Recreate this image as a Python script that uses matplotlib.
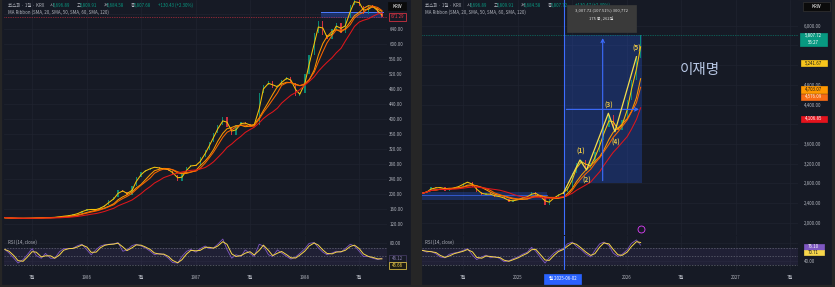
import numpy as np
import pandas as pd
import matplotlib
matplotlib.use('Agg')
import matplotlib.pyplot as plt
import matplotlib.dates as mdates
from matplotlib.patches import Rectangle, FancyArrowPatch

plt.rcParams['font.family'] = ['Noto Sans CJK KR', 'DejaVu Sans']

W, H = 835, 287
BG = '#161a25'
GRID = '#1f2330'
TXT = '#b2b5be'
UP, DOWN = '#089981', '#f23645'
BLUE = '#2962ff'

# ---- data (semi-monthly closes) ----
left_dates = pd.date_range('1985-04-01', periods=84, freq='SMS')
left_close = [137, 136, 135, 135, 135, 136, 136, 137, 137, 138,
              137, 139, 140, 142, 143, 146, 150, 156, 160, 158,
              160, 165, 172, 183, 192, 212, 205, 198, 222, 245,
              258, 265, 270, 273, 266, 268, 262, 252, 235, 255,
              272, 278, 275, 298, 318, 340, 362, 385, 405, 378,
              358, 384, 392, 386, 382, 385, 470, 490, 500, 482,
              490, 505, 512, 495, 462, 470, 520, 570, 630, 660,
              625, 612, 640, 655, 628, 668, 705, 720, 700, 680,
              705, 695, 682, 671.29]
left_rsi = [66, 58, 46, 35, 43, 54, 68, 52, 46, 57,
            46, 46, 61, 68, 68, 69, 75, 78, 65, 54,
            66, 74, 77, 78, 79, 82, 62, 65, 75, 78,
            74, 70, 62, 54, 57, 54, 46, 36, 35, 50,
            62, 66, 60, 68, 74, 68, 70, 78, 90, 66,
            46, 54, 50, 65, 57, 50, 78, 74, 54, 50,
            65, 58, 50, 44, 49, 57, 68, 80, 82, 70,
            60, 54, 58, 62, 60, 68, 78, 74, 62, 50,
            50, 46, 43, 46.12]

right_dates = pd.date_range('2024-02-15', periods=49, freq='SMS')
right_close = [2597, 2651, 2718, 2698, 2732, 2651, 2698, 2718, 2746, 2813,
               2834, 2732, 2631, 2563, 2597, 2563, 2529, 2529, 2475, 2428,
               2462, 2475, 2529, 2529, 2631, 2563, 2529, 2360, 2475, 2529,
               2583, 2631, 2732, 3003, 3206, 3274, 3104, 3206, 3443, 3680,
               3950, 4187, 3916, 3882, 4085, 4492, 4898, 5337, 5807.72]
right_rsi = [64, 60, 62, 56, 49, 47, 55, 58, 60, 64,
             68, 53, 43, 49, 53, 47, 50, 45, 38, 40,
             45, 49, 55, 60, 71, 62, 49, 35, 47, 58,
             64, 68, 79, 83, 73, 65, 56, 49, 64, 79,
             83, 75, 58, 50, 55, 65, 80, 88, 76.1]

# MA ribbon: SMA 20/50/60/120 days, ~10.5 trading days per sample
ma_windows = [2, 5, 6, 11]
ma_colors = ['#f6c309', '#fb9800', '#fb6500', '#e0161b']

left_ticks = ['1985-07-01', '1986-01-01', '1986-07-01', '1987-01-01',
              '1987-07-01', '1988-01-01', '1988-07-01']
left_tick_labels = ['7월', '1986', '7월', '1987', '7월', '1988', '7월']
right_ticks = ['2024-07-01', '2025-01-01', '2025-07-01', '2026-01-01',
               '2026-07-01', '2027-01-01', '2027-07-01']
# the 2025-07 label sits under the date cursor tag
right_tick_labels = ['7월', '2025', '', '2026', '7월', '2027', '7월']

left_price_ticks = list(range(120, 681, 40))
right_price_ticks = list(range(2000, 6001, 400))
# labels hidden behind the value tags on the scale
left_hidden = [680]
right_hidden = [4000, 5200, 5600]

left_ohlc = ['5,696.89', '5,809.91', '5,684.58', '5,807.68']
left_change = '+130.43 (+2.30%)'
right_ohlc = ['5,696.89', '5,809.91', '5,684.58', '5,807.72']
right_change = '+130.47 (+2.30%)'

# Elliott wave drawing
wave_dates = pd.to_datetime(['2025-06-01', '2025-07-27', '2025-08-18',
                             '2025-10-30', '2025-11-21', '2026-02-01'])
wave_prices = [2598, 3274, 3071, 4222, 3848, 5371]
wave_labels = ['', '(1)', '(2)', '(3)', '(4)', '(5)']

# price range measure
meas_start, meas_end = pd.Timestamp('2025-06-02'), pd.Timestamp('2026-02-19')
meas_low, meas_high = 2798, 5805

fig = plt.figure(figsize=(W / 100, H / 100), dpi=100, facecolor='#262626')


def px_axes(x0, y0, x1, y1, **kw):
    return fig.add_axes([x0 / W, 1 - y1 / H, (x1 - x0) / W, (y1 - y0) / H], **kw)


def ftext(x, y, s, **kw):
    kw.setdefault('fontsize', 3.2)
    kw.setdefault('va', 'center')
    return fig.text(x / W, 1 - y / H, s, **kw)


def box(x0, y0, x1, y1, fc, ec=None, z=4, lw=0.5):
    fig.add_artist(Rectangle((x0 / W, 1 - y1 / H), (x1 - x0) / W, (y1 - y0) / H,
                             transform=fig.transFigure, fc=fc, ec=ec or fc,
                             lw=lw, zorder=z))


def tag(xc, yc, s, fc, tc, ec=None, w=26, h=6.6):
    box(xc - w / 2, yc - h / 2, xc + w / 2, yc + h / 2, fc, ec)
    ftext(xc, yc, s, color=tc, ha='center', zorder=5)


def header(x0, ohlc, change):
    ftext(x0, 5.5, '코스피 · 1일 · KRX', color=TXT)
    for (lab, lx, vx), val in zip([('시', 41.5, 44.5), ('고', 68.5, 71.5),
                                   ('저', 96, 99), ('종', 123, 126)], ohlc):
        ftext(x0 + lx, 5.5, lab, color=TXT)
        ftext(x0 + vx, 5.5, val, color=UP)
    ftext(x0 + 150, 5.5, change, color=UP)
    ftext(x0, 12.5, 'MA Ribbon (SMA, 20, SMA, 50, SMA, 60, SMA, 120)', color=TXT)
    ftext(x0, 242, 'RSI (14, close)', color=TXT)


def panel(x0, x1, dates, close, rsi, xlim, ylim, yticks, hidden, yfmt, ypad,
          rsi_labels, ticks, labels):
    ax = px_axes(x0, 0, x1, 235)
    axr = px_axes(x0, 236, x1, 270, sharex=ax)
    for a in (ax, axr):
        a.set_facecolor(BG)
        for s in a.spines.values():
            s.set_visible(False)
        a.grid(True, color=GRID, lw=0.5)
        a.set_axisbelow(True)
        a.yaxis.tick_right()
        a.tick_params(axis='y', length=0, pad=ypad, labelsize=3.2, labelcolor=TXT)
    close = np.array(close, dtype=float)
    opens = np.r_[close[0], close[:-1]]
    colors = [UP if c >= o else DOWN for o, c in zip(opens, close)]
    ax.bar(dates, close - opens, bottom=opens, width=4, color=colors, lw=0,
           alpha=0.85, zorder=2)
    s = pd.Series(close)
    for w, c in zip(ma_windows, ma_colors):
        ax.plot(dates, s.rolling(w, min_periods=1).mean(), color=c, lw=0.75, zorder=3)
    ax.set_ylim(*ylim)
    ax.set_yticks(yticks, ['' if v in hidden else yfmt.format(v) for v in yticks])
    ax.tick_params(axis='x', length=0, labelbottom=False)

    r = pd.Series(rsi, dtype=float)
    axr.axhspan(30, 70, color='#7e57c2', alpha=0.1, lw=0)
    for lv in (70, 50, 30):
        axr.axhline(lv, color='#787b86', lw=0.5, ls=(0, (2, 2)), alpha=0.8)
    axr.plot(dates, r, color='#7e57c2', lw=0.6)
    axr.plot(dates, r.rolling(2, min_periods=1).mean(), color='#f7d64a', lw=0.7)
    axr.set_ylim(19, 97)
    axr.set_yticks([40, 80], rsi_labels)
    axr.set_xticks(pd.to_datetime(ticks), labels)
    axr.tick_params(axis='x', length=0, pad=3.5, labelsize=3.2, labelcolor=TXT)
    ax.set_xlim(pd.Timestamp(xlim[0]), pd.Timestamp(xlim[1]))
    return ax, axr


# panel backgrounds
box(2, 0, 410, 284, BG, z=-1)
box(422, 0, 831, 284, BG, z=-1)

# ---- left panel ----
axL, axLr = panel(4, 387, left_dates, left_close, left_rsi,
                  ('1985-03-29', '1988-10-02'), (91, 717),
                  left_price_ticks, left_hidden, '{:.2f}', 1.7,
                  ['', '80.00'], left_ticks, left_tick_labels)
axL.fill_between(pd.to_datetime(['1988-02-25', '1988-09-18']), 668, 686,
                 color=BLUE, alpha=0.3, lw=0, zorder=1)
axL.plot(pd.to_datetime(['1988-02-25', '1988-09-18']), [686, 686],
         color='#4d7cff', lw=0.7, zorder=1)
axL.axhline(671.29, color=DOWN, lw=0.5, ls=(0, (1, 1.5)), zorder=1)
header(8, left_ohlc, left_change)

tag(397, 6, 'KRW', '#0b0b0b', 'white', w=18, h=8)
tag(397.5, 17, '671.29', BG, DOWN, ec=DOWN, w=17, h=7)
tag(397, 258.3, '46.12', BG, '#8a7fae', ec='#4a3f6b', w=17, h=6.5)
tag(397, 265.3, '45.66', '#1d1c15', '#f7d64a', ec='#f7d64a', w=17, h=6.5)

# ---- right panel ----
axR, axRr = panel(422, 798, right_dates, right_close, right_rsi,
                  ('2024-02-14', '2027-07-27'), (1751, 6522),
                  right_price_ticks, right_hidden, '{:,.2f}', 4.3,
                  ['40.00', ''], right_ticks, right_tick_labels)
band = pd.to_datetime(['2024-02-01', '2025-04-08'])
axR.fill_between(band, 2462, 2631, color=BLUE, alpha=0.25, lw=0, zorder=1)
axR.plot(band, [2563, 2563], color='#3d6dff', lw=0.6, alpha=0.8, zorder=1)

axR.fill_between([meas_start, meas_end], meas_low, meas_high,
                 color=BLUE, alpha=0.25, lw=0, zorder=1)
mid_date = meas_start + (meas_end - meas_start) / 2
mid_price = (meas_low + meas_high) / 2
for p0, p1 in [((mdates.date2num(mid_date), meas_low), (mdates.date2num(mid_date), meas_high)),
               ((mdates.date2num(meas_start), mid_price), (mdates.date2num(meas_end), mid_price))]:
    axR.add_patch(FancyArrowPatch(p0, p1, arrowstyle='->', mutation_scale=6,
                                  color='#3d6dff', lw=0.8, zorder=4))
for a in (axR, axRr):
    a.axvline(meas_start, color='#3d6dff', lw=0.8, zorder=4)
axR.axhline(5807.72, color=UP, lw=0.5, ls=(0, (1, 1.5)), zorder=1)

axR.plot(wave_dates, wave_prices, color='#f5dd4c', lw=0.9, zorder=5)
for i, (d, p, lab) in enumerate(zip(wave_dates, wave_prices, wave_labels)):
    if not lab:
        continue
    dy = 6 if i % 2 == 1 else -7.5
    axR.annotate(lab, (d, p), xytext=(0.5, dy), textcoords='offset points',
                 ha='center', va='center', fontsize=4.7, fontweight='bold',
                 color='#e8c547', zorder=6)
axR.plot([right_dates[-1]], [1873], marker='o', ms=5, mfc='none',
         mec='#e040fb', mew=0.6, zorder=5)

header(425, right_ohlc, right_change)

ftext(700, 70, '이재명', fontsize=10.5, color='#b7c6e3', ha='center')

# measure tooltip
box(566.7, 5, 636, 31.7, '#3a3a3a', z=6)
ftext(601.3, 10.5, '3,007.72 (107.51%) 300,772', color='#e0e0e0', ha='center',
      fontsize=3.0, zorder=7)
ftext(601.3, 18, '175 봉, 262일', color='#e0e0e0', ha='center', fontsize=3.0, zorder=7)

# date cursor tag
box(544, 274, 581, 283.5, BLUE, z=6)
ftext(562.5, 278.7, '월 2025-06-02', color='white', ha='center', zorder=7)

# right scale tags
tag(816.5, 6.5, 'KRW', '#0b0b0b', 'white', ec='#333333', w=27, h=9)
box(800, 32.5, 827, 45.5, UP)
ftext(813.5, 35.8, '5,807.72', color='white', ha='center', zorder=5)
ftext(813.5, 42.2, '56:27', color='white', ha='center', zorder=5)
tag(813.5, 63, '5,241.67', '#f7c51c', '#1a1a1a')
tag(813.5, 89.3, '4,703.07', '#ff9800', '#1a1a1a')
tag(813.5, 96.9, '4,576.09', '#f76b15', '#fff3e0')
tag(813.5, 119, '4,106.85', '#e5131d', 'white')
tag(813.5, 246.7, '76.10', '#7e57c2', 'white', w=20, h=5.6)
tag(813.5, 252.3, '70.71', '#f7d64a', '#1a1a1a', w=20, h=5.6)

fig.savefig('out.png', dpi=100, facecolor=fig.get_facecolor())
